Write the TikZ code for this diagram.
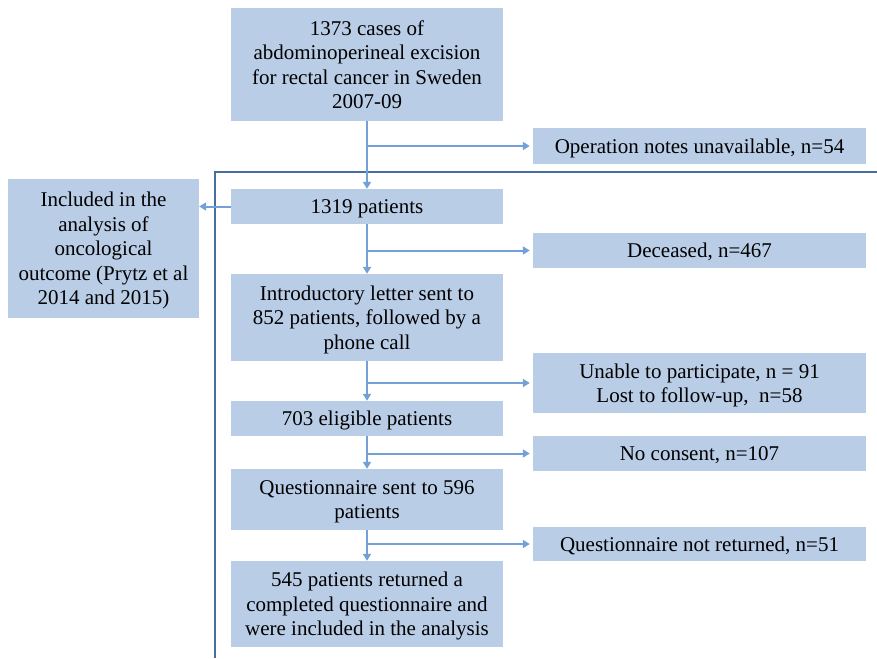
\documentclass[tikz,border=0pt]{standalone}
\usepackage{fontspec}
\setmainfont{Liberation Serif}
\usetikzlibrary{arrows.meta}
\definecolor{boxfill}{RGB}{185,205,230}
\definecolor{arrowc}{RGB}{115,160,215}
\definecolor{framec}{RGB}{70,110,160}
\begin{document}
\begin{tikzpicture}[x=1pt,y=-1pt,
  box/.style={fill=boxfill, inner sep=0pt, align=center, text depth=0pt,
    font=\fontsize{21}{24.5}\selectfont},
  mainbox/.style={box, minimum width=272pt},
  sidebox/.style={box, minimum width=333pt},
  arr/.style={draw=arrowc, line width=2pt, -{Triangle[length=7pt,width=8pt]}},
  framel/.style={draw=framec, line width=2pt}]
\useasboundingbox (0,0) rectangle (877,658);
% frame
\coordinate (fb) at (215,658);
\coordinate (fc) at (215,172);
\coordinate (fr) at (877,172);
\draw[framel] (fb) -- (fc) -- (fr);
% main column
\node[mainbox, minimum height=113pt] (b1) at (367,64.5) {1373 cases of\\abdominoperineal excision\\for rectal cancer in Sweden\\2007-09};
\node[mainbox, minimum height=35pt] (b2) at (367,206.5) {1319 patients};
\node[mainbox, minimum height=87pt] (b3) at (367,317.5) {Introductory letter sent to\\852 patients, followed by a\\phone call};
\node[mainbox, minimum height=35pt] (b4) at (367,418.5) {703 eligible patients};
\node[mainbox, minimum height=61pt] (b5) at (367,499.5) {Questionnaire sent to 596\\patients};
\node[mainbox, minimum height=86pt] (b6) at (367,604) {545 patients returned a\\completed questionnaire and\\were included in the analysis};
% side boxes
\node[sidebox, minimum height=36pt] (r1) at (699.5,146) {Operation notes unavailable, n=54};
\node[sidebox, minimum height=35pt] (r2) at (699.5,250.5) {Deceased, n=467};
\node[sidebox, minimum height=60pt] (r3) at (699.5,383) {Unable to participate, n = 91\\Lost to follow-up,\ \ n=58};
\node[sidebox, minimum height=35pt] (r4) at (699.5,453.5) {No consent, n=107};
\node[sidebox, minimum height=34pt] (r5) at (699.5,544) {Questionnaire not returned, n=51};
\node[box, minimum width=191pt, minimum height=139pt] (L) at (103.5,248.5) {Included in the\\analysis of\\oncological\\outcome (Prytz et al\\2014 and 2015)};
% connectors
\draw[arr] (b1) -- (b2);
\draw[arr] (b2) -- (b3);
\draw[arr] (b3) -- (b4);
\draw[arr] (b4) -- (b5);
\draw[arr] (b5) -- (b6);
\draw[arr, shorten >=3pt] (b1.south |- r1.west) -- (r1.west);
\draw[arr, shorten >=3pt] (b2.south |- r2.west) -- (r2.west);
\draw[arr, shorten >=3pt] (b3.south |- r3.west) -- (r3.west);
\draw[arr, shorten >=3pt] (b4.south |- r4.west) -- (r4.west);
\draw[arr, shorten >=3pt] (b5.south |- r5.west) -- (r5.west);
\draw[arr] (b2.west) -- (L.east |- b2.west);
\end{tikzpicture}
\end{document}
